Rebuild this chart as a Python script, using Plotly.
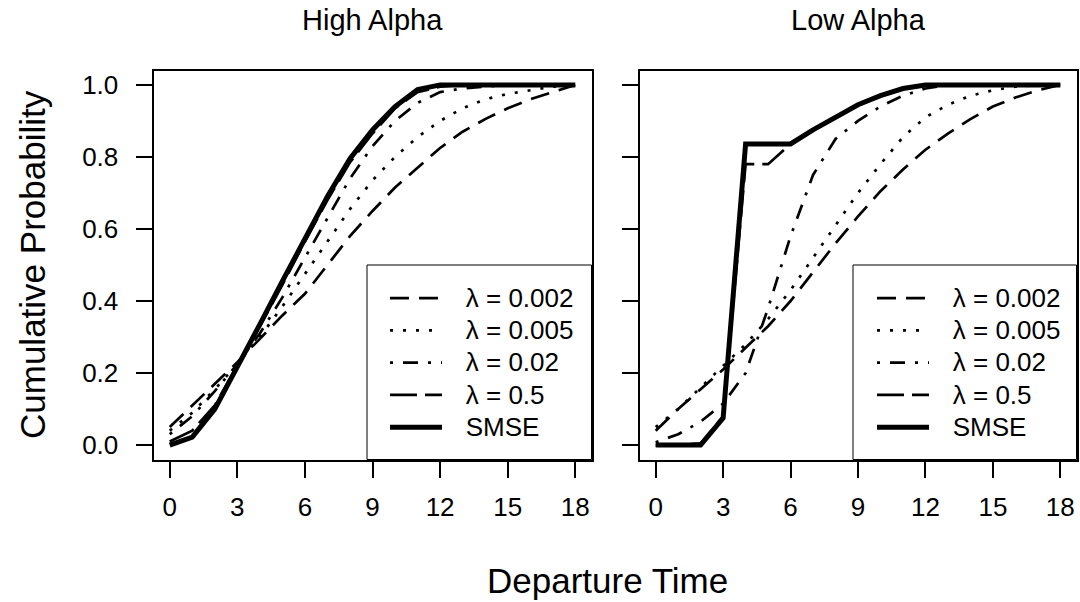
import plotly.graph_objects as go

W, H = 1080, 602

# ---------------- data ----------------
departure_time = list(range(19))
x_ticks = [0, 3, 6, 9, 12, 15, 18]
y_ticks = [0.0, 0.2, 0.4, 0.6, 0.8, 1.0]
y_tick_text = ["0.0", "0.2", "0.4", "0.6", "0.8", "1.0"]
panel_titles = ["High Alpha", "Low Alpha"]
series_names = ["λ = 0.002", "λ = 0.005", "λ = 0.02", "λ = 0.5", "SMSE"]

high_l0002 = [0.05, 0.11, 0.17, 0.23, 0.295, 0.36, 0.42, 0.50, 0.58, 0.65, 0.715, 0.77, 0.825, 0.87, 0.905, 0.935, 0.96, 0.98, 1.0]
high_l0005 = [0.04, 0.09, 0.155, 0.225, 0.30, 0.385, 0.475, 0.565, 0.655, 0.735, 0.80, 0.855, 0.90, 0.935, 0.96, 0.975, 0.985, 0.995, 1.0]
high_l002 = [0.03, 0.08, 0.15, 0.225, 0.31, 0.41, 0.52, 0.63, 0.74, 0.83, 0.90, 0.95, 0.98, 0.99, 0.995, 1.0, 1.0, 1.0, 1.0]
high_l05 = [0.01, 0.04, 0.11, 0.22, 0.33, 0.445, 0.565, 0.68, 0.785, 0.865, 0.935, 0.98, 0.995, 1.0, 1.0, 1.0, 1.0, 1.0, 1.0]
high_smse = [0.0, 0.022, 0.10, 0.215, 0.335, 0.455, 0.575, 0.69, 0.795, 0.875, 0.94, 0.987, 1.0, 1.0, 1.0, 1.0, 1.0, 1.0, 1.0]

low_l0002 = [0.04, 0.10, 0.155, 0.21, 0.27, 0.33, 0.40, 0.48, 0.56, 0.635, 0.705, 0.765, 0.82, 0.865, 0.905, 0.94, 0.965, 0.985, 1.0]
low_l0005 = [0.05, 0.10, 0.16, 0.22, 0.28, 0.35, 0.43, 0.52, 0.61, 0.70, 0.78, 0.855, 0.91, 0.945, 0.97, 0.985, 0.995, 1.0, 1.0]
low_l002 = [0.008, 0.03, 0.065, 0.115, 0.20, 0.38, 0.58, 0.75, 0.85, 0.90, 0.94, 0.97, 0.99, 1.0, 1.0, 1.0, 1.0, 1.0, 1.0]
low_l05 = [0.0, 0.0, 0.005, 0.08, 0.78, 0.78, 0.836, 0.875, 0.91, 0.945, 0.97, 0.99, 1.0, 1.0, 1.0, 1.0, 1.0, 1.0, 1.0]
low_smse = [0.0, 0.0, 0.0, 0.075, 0.836, 0.836, 0.836, 0.875, 0.91, 0.945, 0.97, 0.99, 1.0, 1.0, 1.0, 1.0, 1.0, 1.0, 1.0]

high_series = [high_l0002, high_l0005, high_l002, high_l05, high_smse]
low_series = [low_l0002, low_l0005, low_l002, low_l05, low_smse]

# ---------------- styles ----------------
FONT = "Liberation Sans, Arial, Helvetica, sans-serif"
line_styles = [
    dict(color="black", width=2.7, dash="19px,10px"),            # dashed
    dict(color="black", width=2.7, dash="3px,10px"),             # dotted
    dict(color="black", width=2.7, dash="3px,10px,15px,10px"),   # dotdash
    dict(color="black", width=2.7, dash="27px,8px"),             # longdash
    dict(color="black", width=5),                                # solid thick
]


def legend_label(name):
    return "\u00a0\u00a0\u00a0<span style='font-size:26px'>" + name + "</span>"


def px_x(v):
    return v / W


def px_y(v):
    return 1 - v / H


box_left = (153.5, 591.5)
box_right = (639.5, 1076.5)
box_top, box_bottom = 70.5, 459.5

fig = go.Figure()
for i, name in enumerate(series_names):
    fig.add_trace(go.Scatter(x=departure_time, y=high_series[i], mode="lines",
                             name=legend_label(name),
                             line=line_styles[i], xaxis="x", yaxis="y", legend="legend",
                             hoverinfo="skip"))
for i, name in enumerate(series_names):
    fig.add_trace(go.Scatter(x=departure_time, y=low_series[i], mode="lines",
                             name=legend_label(name),
                             line=line_styles[i], xaxis="x2", yaxis="y2", legend="legend2",
                             hoverinfo="skip"))

axis_common = dict(showgrid=False, zeroline=False, showline=True, linecolor="black",
                   linewidth=2, mirror=True, ticks="outside", ticklen=16, tickwidth=1.5,
                   tickcolor="black", tickfont=dict(family=FONT, size=26, color="black"))

ydom = [px_y(box_bottom), px_y(box_top)]
legend_font = dict(family=FONT, size=22.5, color="black")

fig.update_layout(
    width=W, height=H, margin=dict(l=0, r=0, t=0, b=0),
    paper_bgcolor="white", plot_bgcolor="white",
    font=dict(family=FONT, color="black"),
    xaxis=dict(domain=[px_x(box_left[0]), px_x(box_left[1])], range=[-0.72, 18.72],
               tickvals=x_ticks, anchor="y", ticklabelstandoff=7, **axis_common),
    yaxis=dict(domain=ydom, range=[-0.04, 1.04], tickvals=y_ticks, ticktext=y_tick_text,
               anchor="x", ticklabelstandoff=12, **axis_common),
    xaxis2=dict(domain=[px_x(box_right[0]), px_x(box_right[1])], range=[-0.72, 18.72],
                tickvals=x_ticks, anchor="y2", ticklabelstandoff=7, **axis_common),
    yaxis2=dict(domain=ydom, range=[-0.04, 1.04], tickvals=y_ticks, anchor="x2",
                showticklabels=False, **axis_common),
    legend=dict(x=px_x(385), y=px_y(277), xanchor="left", yanchor="top",
                bgcolor="rgba(0,0,0,0)", borderwidth=0, itemwidth=52, font=legend_font),
    legend2=dict(x=px_x(872), y=px_y(277), xanchor="left", yanchor="top",
                 bgcolor="rgba(0,0,0,0)", borderwidth=0, itemwidth=52, font=legend_font),
    showlegend=True,
)

# legend frames
for (x0, x1) in [(367, box_left[1]), (853, box_right[1])]:
    fig.add_shape(type="rect", xref="paper", yref="paper",
                  x0=px_x(x0), x1=px_x(x1), y0=px_y(box_bottom), y1=px_y(265),
                  line=dict(color="black", width=1), fillcolor="white", layer="above")

# panel titles
for title, (a, b) in zip(panel_titles, [box_left, box_right]):
    fig.add_annotation(text=title, xref="paper", yref="paper", x=px_x((a + b) / 2),
                       y=px_y(20), xanchor="center", yanchor="middle", showarrow=False,
                       font=dict(family=FONT, size=29, color="black"))

# axis titles
fig.add_annotation(text="Departure Time", xref="paper", yref="paper",
                   x=px_x(607), y=px_y(580),
                   xanchor="center", yanchor="middle", showarrow=False,
                   font=dict(family=FONT, size=35, color="black"))
fig.add_annotation(text="Cumulative Probability", xref="paper", yref="paper",
                   x=px_x(32), y=px_y((box_top + box_bottom) / 2), textangle=-90,
                   xanchor="center", yanchor="middle", showarrow=False,
                   font=dict(family=FONT, size=35, color="black"))

fig.write_html("out.html")
